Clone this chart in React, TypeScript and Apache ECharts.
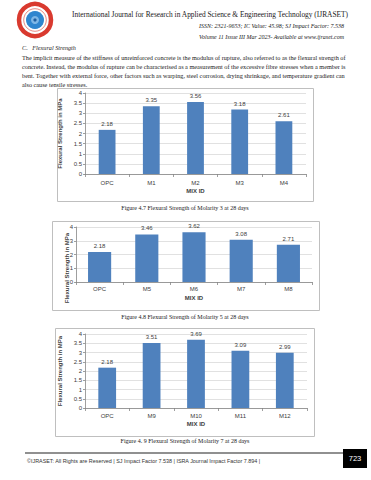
import React, { useEffect, useRef } from 'react';
import * as echarts from 'echarts';

const categories1 = ['OPC', 'M1', 'M2', 'M3', 'M4'];
const values1 = [2.18, 3.35, 3.56, 3.18, 2.61];
const categories2 = ['OPC', 'M5', 'M6', 'M7', 'M8'];
const values2 = [2.18, 3.46, 3.62, 3.08, 2.71];
const categories3 = ['OPC', 'M9', 'M10', 'M11', 'M12'];
const values3 = [2.18, 3.51, 3.69, 3.09, 2.99];

const yMax = 4;
const yInterval1 = 0.5;
const yInterval2 = 1;
const yInterval3 = 0.5;

const yTitle = 'Flexural Strength in MPa';
const xTitle = 'MIX ID';

const headerTitle = 'International Journal for Research in Applied Science & Engineering Technology (IJRASET)';
const headerIssn = 'ISSN: 2321-9653; IC Value: 45.98; SJ Impact Factor: 7.538';
const headerVolume = 'Volume 11 Issue III Mar 2023- Available at www.ijraset.com';
const sectionTitle = 'C.   Flexural Strength';
const paragraphLines = [
  'The implicit measure of the stiffness of unreinforced concrete is the modulus of rupture, also referred to as the flexural strength of',
  'concrete. Instead, the modulus of rupture can be characterised as a measurement of the excessive fibre stresses when a member is',
  'bent. Together with external force, other factors such as warping, steel corrosion, drying shrinkage, and temperature gradient can',
  'also cause tensile stresses.',
];
const captions = [
  'Figure 4.7 Flexural Strength of Molarity 3 at 28 days',
  'Figure 4.8 Flexural Strength of Molarity 5 at 28 days',
  'Figure 4. 9 Flexural Strength of Molarity 7 at 28 days',
];
const footerText = '©IJRASET: All Rights are Reserved | SJ Impact Factor 7.538 | ISRA Journal Impact Factor 7.894 |';
const pageNumber = '723';

const BAR = '#4F81BD';
const SANS = 'Liberation Sans, Arial, sans-serif';
const SERIF = 'Liberation Serif, Times New Roman, serif';
const TXT = '#404040';

function measure(t: string, font: string): number {
  try {
    const c = document.createElement('canvas').getContext('2d');
    if (!c) return 0;
    c.font = font;
    return c.measureText(t).width;
  } catch (e) {
    return 0;
  }
}

export default function App() {
  const ref = useRef<HTMLDivElement>(null);

  useEffect(() => {
    if (!ref.current) return;
    const chart = echarts.init(ref.current, null, { renderer: 'svg' });

    const mkX = (idx: number, cats: string[], margin: number, gap: number) => ({
      type: 'category',
      gridIndex: idx,
      data: cats,
      axisLine: { show: true, lineStyle: { color: '#868686', width: 0.8 } },
      axisTick: { show: true, length: 3, lineStyle: { color: '#868686', width: 0.8 } },
      axisLabel: { fontSize: 6, color: TXT, fontFamily: SANS, margin },
      name: xTitle,
      nameLocation: 'middle',
      nameGap: gap,
      nameTextStyle: { fontSize: 6, fontWeight: 'bold', color: TXT, fontFamily: SANS },
    });

    const mkY = (idx: number, interval: number, gap: number, withName: boolean) => ({
      type: 'value',
      gridIndex: idx,
      min: 0,
      max: yMax,
      interval,
      axisLine: { show: true, lineStyle: { color: '#868686', width: 0.8 } },
      axisTick: { show: true, length: 2, lineStyle: { color: '#868686', width: 0.8 } },
      axisLabel: { fontSize: 6, color: TXT, fontFamily: SANS, margin: 3 },
      splitLine: { show: true, lineStyle: { color: '#d9d9d9', width: 0.8 } },
      name: withName ? yTitle : '',
      nameLocation: 'middle',
      nameRotate: 90,
      nameGap: gap,
      nameTextStyle: { fontSize: 6, fontWeight: 'bold', color: TXT, fontFamily: SANS },
    });

    const mkSeries = (idx: number, data: number[], barWidth: string) => ({
      type: 'bar',
      xAxisIndex: idx,
      yAxisIndex: idx,
      data,
      barWidth,
      itemStyle: { color: BAR },
      label: {
        show: true,
        position: 'top',
        distance: 3,
        fontSize: 6,
        color: TXT,
        fontFamily: SANS,
        formatter: (p: any) => Number(p.value).toFixed(2),
      },
    });

    const text = (t: string, x: number, y: number, size: number, opts: any = {}) => ({
      type: 'text',
      x,
      y,
      silent: true,
      style: {
        text: t,
        fontSize: size,
        fontFamily: opts.family || SERIF,
        fontStyle: opts.italic ? 'italic' : 'normal',
        fontWeight: opts.bold ? 'bold' : 'normal',
        fill: opts.fill || '#1a1a1a',
        align: opts.align || 'left',
        verticalAlign: 'middle',
      },
      rotation: opts.rotation || 0,
    });

    const frame = (x1: number, y1: number, x2: number, y2: number) => ({
      type: 'rect',
      shape: { x: x1 + 0.5, y: y1 + 0.5, width: x2 - x1, height: y2 - y1 },
      style: { fill: 'none', stroke: '#bfbfbf', lineWidth: 1 },
      silent: true,
      z: -1,
    });

    // per-line font size so the justified lines span the text block width
    const blockWidth = 324;
    const sizes = paragraphLines.map((l, i) => {
      if (i === paragraphLines.length - 1) return 0;
      const w = measure(l, `10px ${SERIF}`);
      if (!w) return 6.1;
      return Math.min(6.4, Math.max(5.8, (blockWidth / w) * 10));
    });
    sizes[sizes.length - 1] = sizes[0];

    const graphics: any[] = [
      // logo
      { type: 'circle', shape: { cx: 35, cy: 20, r: 16 }, style: { fill: '#fff', stroke: '#d93a2f', lineWidth: 4.5 } },
      { type: 'circle', shape: { cx: 35, cy: 20, r: 11.3 }, style: { fill: '#fff', stroke: '#d93a2f', lineWidth: 0.6 } },
      { type: 'circle', shape: { cx: 35, cy: 20, r: 9 }, style: { fill: '#2f86cf' } },
      { type: 'circle', shape: { cx: 35, cy: 20, r: 4 }, style: { fill: '#7fb7e6' } },
      { type: 'circle', shape: { cx: 35, cy: 20, r: 1.6 }, style: { fill: '#1f5fa0' } },
      text(headerTitle, 72, 14, 7.4),
      text(headerIssn, 344, 26, 6, { italic: true, align: 'right' }),
      text(headerVolume, 344, 36.5, 6, { italic: true, align: 'right' }),
      text(sectionTitle, 22, 47, 6.2, { italic: true }),
      ...paragraphLines.map((l, i) => text(l, 22, 57 + i * 9, sizes[i])),
      frame(57, 88, 313, 201),
      frame(52, 221, 319, 310),
      frame(55, 328, 314, 436),
      text(captions[0], 185, 208, 6, { align: 'center' }),
      text(captions[1], 185, 316.5, 6, { align: 'center' }),
      text(captions[2], 185, 441, 6, { align: 'center' }),
      text(yTitle, 67, 268, 6, { bold: true, family: SANS, fill: TXT, align: 'center', rotation: Math.PI / 2 }),
      {
        type: 'line',
        shape: { x1: 25, y1: 453, x2: 343, y2: 453 },
        style: { stroke: '#222', lineWidth: 1.2 },
      },
      { type: 'rect', shape: { x: 343, y: 449, width: 24, height: 19 }, style: { fill: '#000' } },
      text(pageNumber, 355, 458.5, 7.5, { family: SANS, fill: '#fff', align: 'center' }),
      text(footerText, 27, 461, 5.4, { family: SANS, fill: '#333' }),
    ];

    const option: any = {
      animation: false,
      backgroundColor: '#fff',
      grid: [
        { left: 85, right: 65, top: 93, height: 81 },
        { left: 76, right: 59, top: 227, height: 55 },
        { left: 85, right: 64, top: 334, height: 74 },
      ],
      xAxis: [mkX(0, categories1, 6, 14), mkX(1, categories2, 4, 13), mkX(2, categories3, 5, 13)],
      yAxis: [mkY(0, yInterval1, 14, true), mkY(1, yInterval2, 6, false), mkY(2, yInterval3, 15, true)],
      series: [mkSeries(0, values1, '38%'), mkSeries(1, values2, '49%'), mkSeries(2, values3, '40%')],
      graphic: { elements: graphics },
    };

    chart.setOption(option);
    return () => chart.dispose();
  }, []);

  return (
    <div
      ref={ref}
      style={{ position: 'absolute', left: 0, top: 0, width: 371, height: 480, background: '#fff' }}
    />
  );
}
